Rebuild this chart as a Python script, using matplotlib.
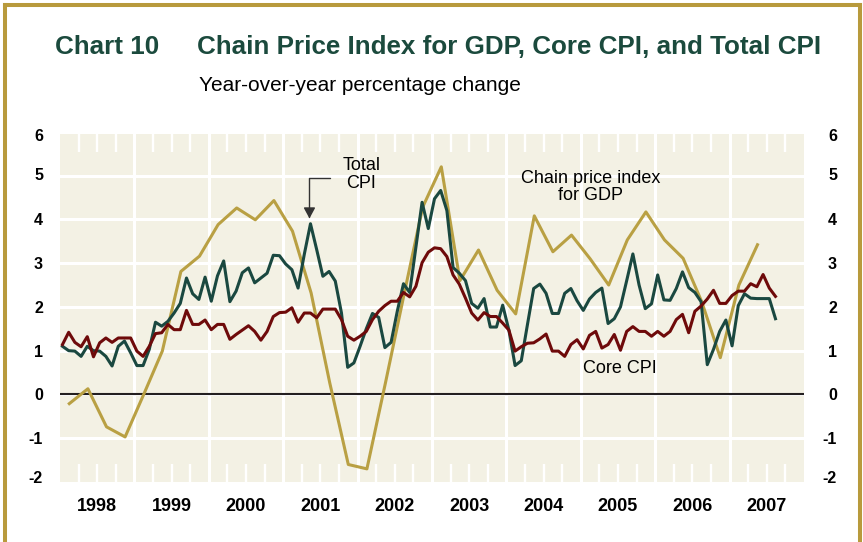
import numpy as np
import matplotlib.pyplot as plt
from matplotlib.lines import Line2D

# --- Data ---
# monthly, Jan 1998 .. Aug 2007
total_cpi = [1.10, 1.00, 0.99, 0.87, 1.10, 1.00, 0.99, 0.87, 0.65, 1.10, 1.22, 0.95,
             0.66, 0.66, 1.03, 1.65, 1.56, 1.67, 1.86, 2.08, 2.66, 2.30, 2.17, 2.68,
             2.13, 2.71, 3.05, 2.12, 2.36, 2.78, 2.89, 2.55, 2.66, 2.77, 3.18, 3.17,
             2.98, 2.85, 2.43, 3.20, 3.90, 3.31, 2.70, 2.81, 2.59, 1.86, 0.62, 0.72,
             1.10, 1.50, 1.85, 1.76, 1.07, 1.19, 1.90, 2.53, 2.33, 3.36, 4.39, 3.79,
             4.47, 4.66, 4.20, 2.90, 2.77, 2.60, 2.08, 1.97, 2.19, 1.54, 1.54, 2.04,
             1.47, 0.66, 0.77, 1.60, 2.42, 2.52, 2.31, 1.85, 1.85, 2.31, 2.42, 2.14,
             1.92, 2.18, 2.33, 2.43, 1.62, 1.73, 2.00, 2.60, 3.21, 2.50, 1.96, 2.07,
             2.73, 2.16, 2.15, 2.42, 2.80, 2.44, 2.33, 2.12, 0.68, 1.03, 1.44, 1.70,
             1.11, 2.03, 2.30, 2.20, 2.19, 2.19, 2.19, 1.73]

core_cpi = [1.14, 1.42, 1.19, 1.09, 1.32, 0.86, 1.18, 1.29, 1.19, 1.29, 1.29, 1.29,
            0.99, 0.87, 1.10, 1.39, 1.41, 1.60, 1.48, 1.48, 1.92, 1.60, 1.60, 1.70,
            1.48, 1.60, 1.60, 1.26, 1.37, 1.47, 1.57, 1.44, 1.24, 1.44, 1.78, 1.87,
            1.88, 1.98, 1.65, 1.86, 1.86, 1.75, 1.95, 1.95, 1.95, 1.71, 1.33, 1.24,
            1.33, 1.44, 1.71, 1.90, 2.03, 2.13, 2.13, 2.33, 2.23, 2.47, 3.01, 3.25,
            3.35, 3.33, 3.15, 2.73, 2.52, 2.20, 1.86, 1.70, 1.87, 1.78, 1.78, 1.63,
            1.47, 0.99, 1.09, 1.17, 1.18, 1.27, 1.38, 0.99, 0.99, 0.87, 1.14, 1.25,
            1.04, 1.35, 1.44, 1.06, 1.14, 1.37, 1.01, 1.44, 1.55, 1.44, 1.44, 1.33,
            1.44, 1.33, 1.44, 1.71, 1.83, 1.41, 1.90, 2.02, 2.18, 2.38, 2.08, 2.08,
            2.26, 2.36, 2.36, 2.53, 2.46, 2.74, 2.43, 2.24]

# quarterly, 1998Q1 .. 2007Q2
gdp_deflator = [-0.21, 0.13, -0.74, -0.97,
                0.00, 0.99, 2.81, 3.16,
                3.88, 4.26, 3.99, 4.43,
                3.73, 2.32, 0.27, -1.60,
                -1.70, 0.27, 2.29, 4.28,
                5.20, 2.60, 3.30, 2.38,
                1.84, 4.08, 3.26, 3.64,
                3.10, 2.50, 3.53, 4.17,
                3.53, 3.11, 2.12, 0.84,
                2.50, 3.42]

years = list(range(1998, 2008))
year_labels = [str(y) for y in years]
y_labels = ['-2', '-1', '0', '1', '2', '3', '4', '5', '6']

# --- Style ---
bg = '#F3F1E4'
green = '#1A4840'
red = '#6E0A0A'
gold = '#B9A043'
title_green = '#1B4A3D'
border = '#B89A3C'

plt.rcParams['font.family'] = ['Liberation Sans', 'DejaVu Sans']

W, H = 863, 542
fig = plt.figure(figsize=(W / 100, H / 100), dpi=100)
ax = fig.add_axes([60 / W, 60 / H, 744 / W, 348 / H])
ax.set_facecolor(bg)
ax.set_xlim(1998, 2008)
ax.set_ylim(-2, 5.95)
for s in ax.spines.values():
    s.set_visible(False)
ax.set_axisbelow(True)

# white grid
for v in range(-1, 6):
    ax.axhline(v, color='white', lw=2.2, zorder=1)
for yr in years[1:]:
    ax.axvline(yr, color='white', lw=2.2, zorder=1)
ax.axhline(0, color='#231f20', lw=1.5, zorder=1.5)

months = 1998 + (np.arange(len(total_cpi)) + 0.4) / 12
quarters = 1998 + (np.arange(len(gdp_deflator)) + 0.5) / 4

ax.plot(quarters, gdp_deflator, color=gold, lw=2.2, zorder=2)
ax.plot(months, total_cpi, color=green, lw=2.2, zorder=3)
ax.plot(months[:len(core_cpi)], core_cpi, color=red, lw=2.2, zorder=4)

# x axis: year labels centred, quarter marks as white ticks
ax.set_xticks([y + 0.5 for y in years])
ax.set_xticklabels(year_labels, fontsize=13, fontweight='bold')
ax.set_xticks([y + q for y in years for q in (0.25, 0.5, 0.75)], minor=True)
ax.xaxis.remove_overlapping_locs = False
ax.tick_params(axis='x', which='major', length=0, pad=11.5)
ax.tick_params(axis='x', which='minor', direction='in', length=13, width=1.7,
               color='white', top=True, bottom=True)

# y labels both sides
ylab_pos = [-1.88, -1, 0, 1, 2, 3, 4, 5.03, 5.92]
ax.set_yticks(ylab_pos)
ax.set_yticklabels(y_labels, fontsize=11.5, fontweight='bold')
ax.tick_params(axis='y', length=0, pad=12.2)

ax2 = ax.twinx()
ax2.set_ylim(ax.get_ylim())
for s in ax2.spines.values():
    s.set_visible(False)
ax2.set_yticks(ylab_pos)
ax2.set_yticklabels(y_labels, fontsize=11.5, fontweight='bold')
ax2.tick_params(axis='y', length=0, pad=23.8)
for lab in ax2.get_yticklabels():
    lab.set_ha('right')

# annotations
ax.text(2002.05, 5.03, 'Total\nCPI', ha='center', va='center', fontsize=13,
        linespacing=1.05, zorder=5)
ax.annotate('', xy=(2001.353, 4.02), xytext=(2001.632, 4.95),
            arrowprops=dict(arrowstyle='-|>,head_length=0.65,head_width=0.35',
                            connectionstyle='angle,angleA=0,angleB=90,rad=0',
                            color='#333333', lw=1, shrinkA=0, shrinkB=0),
            zorder=5)
ax.text(2005.13, 4.74, 'Chain price index\nfor GDP', ha='center', va='center',
        fontsize=13, linespacing=1.05, zorder=5)
ax.text(2005.52, 0.6, 'Core CPI', ha='center', va='center', fontsize=13, zorder=5)

# titles
base = 1 - 54.5 / H
fig.text(55 / W, base, 'Chart 10', fontsize=18.7, fontweight='bold',
         color=title_green, va='baseline')
fig.text(196.7 / W, base, 'Chain Price Index for GDP, Core CPI, and Total CPI',
         fontsize=18.7, fontweight='bold', color=title_green, va='baseline')
fig.text(199 / W, 1 - 91 / H, 'Year-over-year percentage change', fontsize=15,
         va='baseline')

# gold frame
top = 1 - 5 / H
for xs, ys in [([5 / W, 5 / W], [0, top]),
               ([5 / W, 859.5 / W], [top, top]),
               ([859.5 / W, 859.5 / W], [0, top])]:
    fig.add_artist(Line2D(xs, ys, transform=fig.transFigure, color=border,
                          lw=2.9, solid_capstyle='projecting'))

fig.savefig('out.png', dpi=100)
